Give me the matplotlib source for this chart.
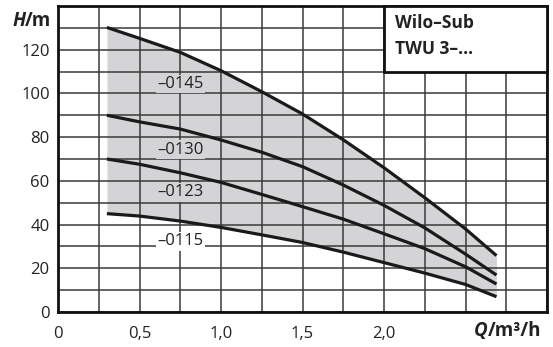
import matplotlib
matplotlib.use("Agg")
import matplotlib.pyplot as plt
from matplotlib.patches import Rectangle

plt.rcParams['font.family'] = ['Open Sans', 'DejaVu Sans']

Q = [0.3, 0.5, 0.75, 1.0, 1.25, 1.5, 1.75, 2.0, 2.25, 2.5, 2.69]
H_0145 = [130.2, 125.2, 118.8, 110.4, 100.8, 90.6, 78.8, 66.0, 52.3, 38.0, 25.8]
H_0130 = [90.0, 87.0, 83.7, 78.7, 73.1, 66.5, 58.1, 48.8, 38.5, 26.5, 16.9]
H_0123 = [70.0, 67.6, 63.7, 59.3, 53.8, 48.2, 42.5, 35.8, 29.0, 20.7, 12.8]
H_0115 = [45.0, 43.9, 41.6, 38.7, 35.3, 31.8, 27.4, 22.6, 17.8, 12.6, 7.0]

curve_names = ['–0145', '–0130', '–0123', '–0115']
label_pos = [(0.75, 104.3), (0.75, 74.2), (0.75, 54.8), (0.75, 32.3)]

x_ticks = [0, 0.25, 0.5, 0.75, 1.0, 1.25, 1.5, 1.75, 2.0, 2.25, 2.5, 2.75, 3.0]
x_labels = ['0', '', '0,5', '', '1,0', '', '1,5', '', '2,0', '', '', '', '']
y_ticks = [0, 10, 20, 30, 40, 50, 60, 70, 80, 90, 100, 110, 120, 130, 140]
y_labels = ['0', '', '20', '', '40', '', '60', '', '80', '', '100', '', '120', '', '']

title_lines = ['Wilo–Sub', 'TWU 3–...']

fill_color = '#d4d4d7'

fig = plt.figure(figsize=(5.53, 3.47), dpi=100)
ax = fig.add_axes([58/553, 35/347, (547-58)/553, (312-6)/347])
ax.set_xlim(0, 3.0)
ax.set_ylim(0, 140)

ax.set_xticks(x_ticks)
ax.set_xticklabels(x_labels)
ax.set_yticks(y_ticks)
ax.set_yticklabels(y_labels)
ax.tick_params(length=0, labelsize=12, colors='#222222')
ax.tick_params(axis='x', pad=10)
ax.tick_params(axis='y', pad=6)
ax.set_axisbelow(True)
ax.grid(True, color='#3a3a3a', linewidth=1.1)
for s in ax.spines.values():
    s.set_linewidth(2.0)
    s.set_color('#111111')

ax.fill_between(Q, H_0115, H_0145, color=fill_color, linewidth=0, zorder=0.3)

for H in [H_0145, H_0130, H_0123, H_0115]:
    ax.plot(Q, H, color='#1a1a1a', linewidth=2.3, solid_capstyle='butt',
            solid_joinstyle='round', zorder=3)

for i, (name, (lx, ly)) in enumerate(zip(curve_names, label_pos)):
    bg = 'white' if i == 3 else fill_color
    ax.text(lx, ly, name, ha='center', va='center', fontsize=12, color='#222222',
            zorder=2.5, bbox=dict(facecolor=bg, edgecolor='none', pad=1.0))

# title box
box = Rectangle((2.0, 110), 1.0, 30, facecolor='white', edgecolor='#111111',
                linewidth=2.0, zorder=4, clip_on=False)
ax.add_patch(box)
ax.text(2.07, 132.2, title_lines[0], fontsize=12.5, fontweight='bold', va='center', ha='left',
        zorder=5, color='#222222')
ax.text(2.07, 120.3, title_lines[1], fontsize=12.5, fontweight='bold', va='center', ha='left',
        zorder=5, color='#222222')

# axis labels
t_h = ax.text(-0.04, 133.2, '/m', fontsize=13.5, fontweight='bold', ha='right', va='center',
              transform=ax.transData, clip_on=False, color='#222222')
ax.annotate('H', xy=(0, 0.5), xycoords=t_h, ha='right', va='center', fontsize=13.5,
            fontweight='bold', fontstyle='italic', color='#222222')

t_q = fig.text(541/553, 1 - 331/347, '/m³/h', fontsize=13.5, fontweight='bold', ha='right', va='center',
               color='#222222')
ax.annotate('Q', xy=(0, 0.5), xycoords=t_q, ha='right', va='center', fontsize=13.5,
            fontweight='bold', fontstyle='italic', color='#222222')

fig.savefig('out.png', dpi=100)
